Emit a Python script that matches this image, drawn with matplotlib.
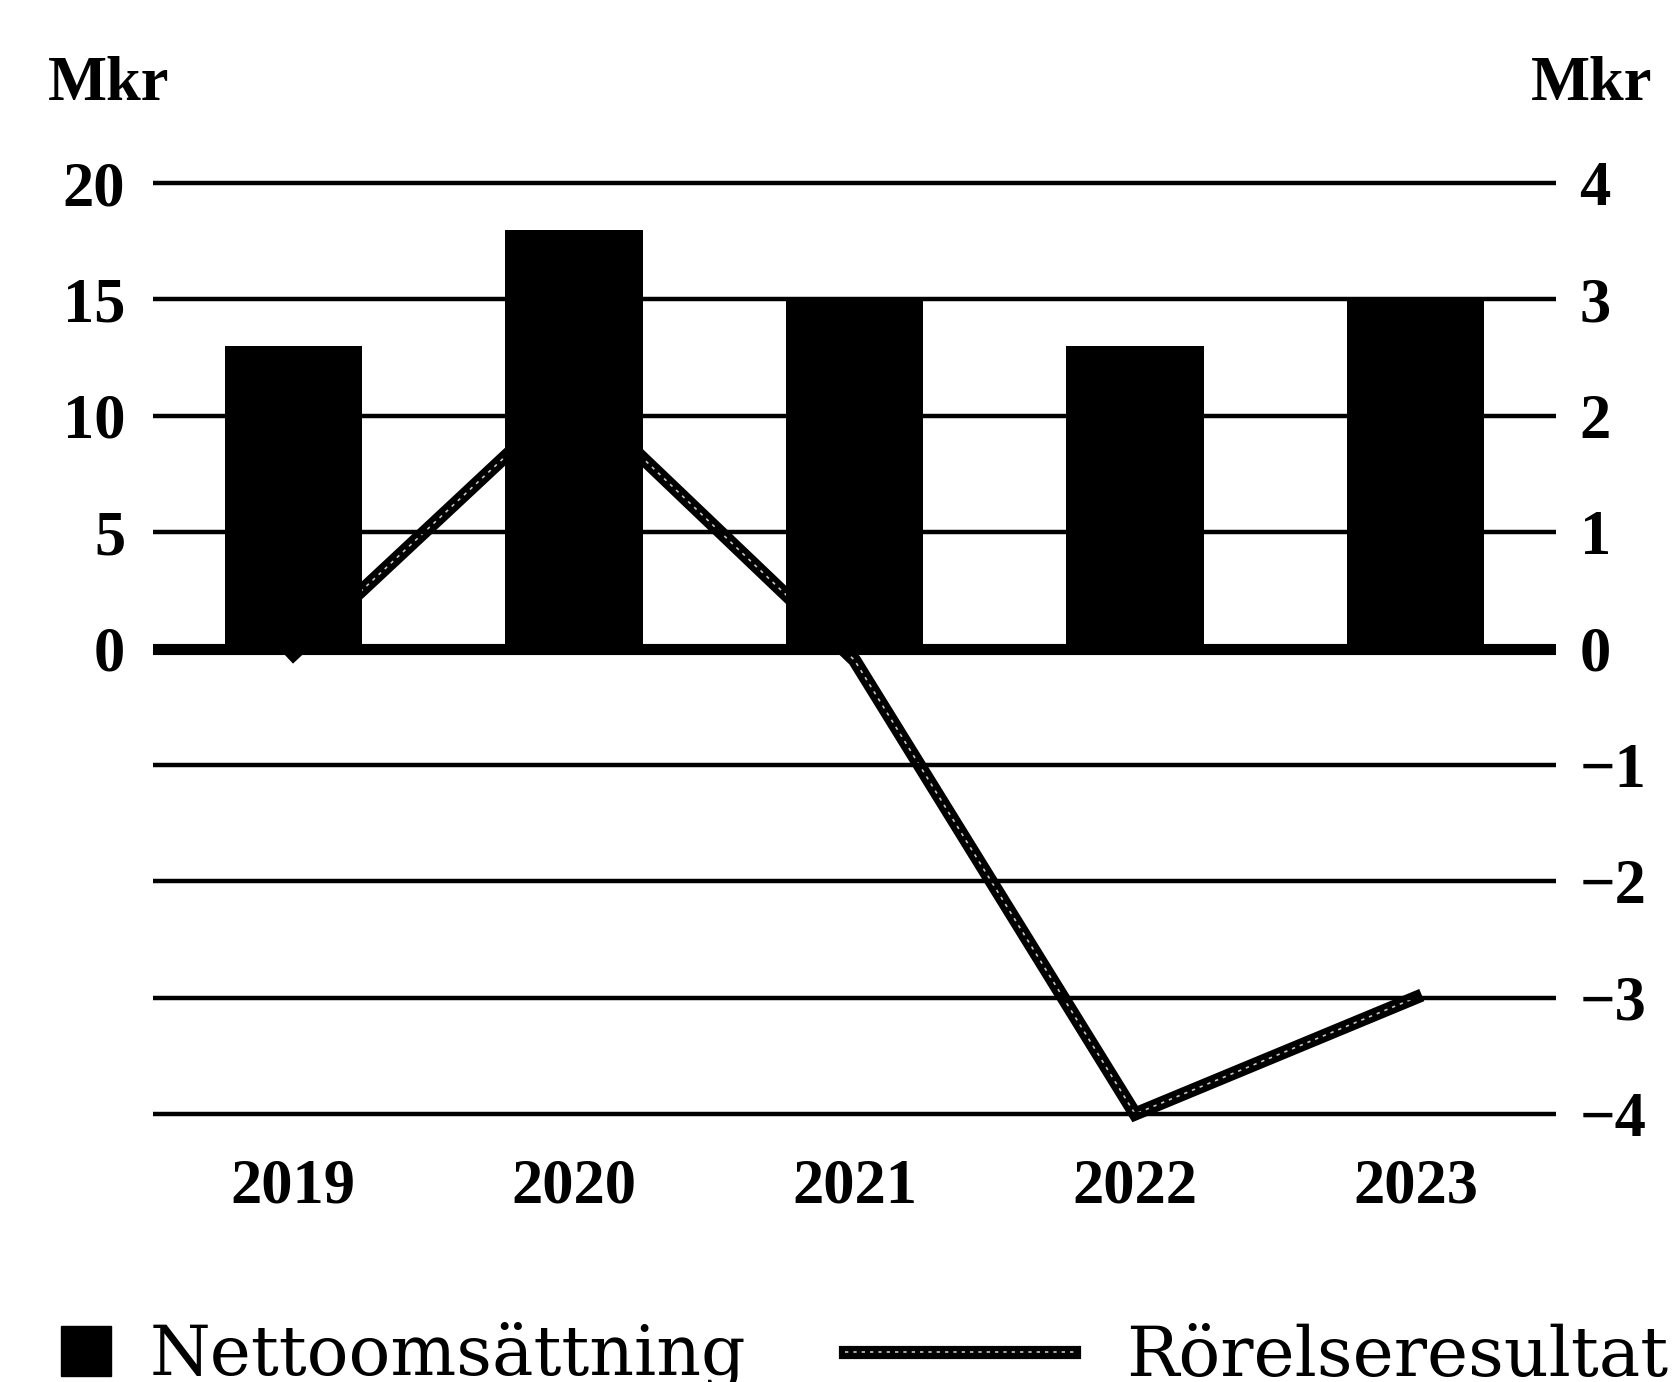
import matplotlib
matplotlib.use("Agg")
import matplotlib.pyplot as plt
from matplotlib.patches import Patch

# data
years = ["2019", "2020", "2021", "2022", "2023"]
nettoomsattning = [13, 18, 15, 13, 15]            # Mkr, left axis
rorelseresultat = [-0.05, 2.2, -0.1, -4.0, -3.0]  # Mkr, right axis

left_ticks = [0, 5, 10, 15, 20]
left_grid = [-20, -15, -10, -5, 0, 5, 10, 15, 20]
right_ticks = [-4, -3, -2, -1, 0, 1, 2, 3, 4]

tick_font = dict(family="Liberation Serif", weight="bold", size=45)
legend_font = dict(family="DejaVu Serif", size=50)

fig = plt.figure(figsize=(16.77, 13.82), dpi=100)
ax = fig.add_axes([153 / 1677, 0.1771, (1556 - 153) / 1677, 0.7073])
ax2 = ax.twinx()

# bars sit above the line (line is hidden where it passes behind a bar)
ax.set_zorder(2)
ax2.set_zorder(1)
ax.patch.set_visible(False)

x = range(len(years))

# horizontal grid lines (left scale), zero line thicker
for g in left_grid:
    ax.axhline(g, color="black", lw=8 if g == 0 else 3.2, zorder=1)

bars = ax.bar(x, nettoomsattning, width=0.49, color="black", zorder=2)

# "hollow" line: thick black line with a faint dotted light core on top
outer, = ax2.plot(x, rorelseresultat, color="black", lw=9.5,
                  solid_joinstyle="miter", zorder=3)
inner, = ax2.plot(x, rorelseresultat, color="#c4c4c4", lw=1.2,
                  linestyle=(0, (2, 3)), zorder=4)

ax.set_xlim(-0.5, 4.5)
ax.set_ylim(-21, 21)
ax2.set_ylim(-4.2, 4.2)

ax.set_yticks(left_ticks)
ax.set_yticklabels([str(v) for v in left_ticks], fontdict=tick_font)
ax2.set_yticks(right_ticks)
ax2.set_yticklabels([str(v).replace("-", "\u2212") for v in right_ticks],
                    fontdict=tick_font)
ax.set_xticks(list(x))
ax.set_xticklabels(years, fontdict=tick_font)

ax.tick_params(axis="y", length=0, pad=20)
ax2.tick_params(axis="y", length=0, pad=17)
ax.tick_params(axis="x", length=0, pad=15)

for a in (ax, ax2):
    for s in a.spines.values():
        s.set_visible(False)

# unit labels above each axis
fig.text(48 / 1677, 1 - 100 / 1382, "Mkr", ha="left", va="baseline", **tick_font)
fig.text(1652 / 1677, 1 - 100 / 1382, "Mkr", ha="right", va="baseline", **tick_font)

# legend at the bottom, two separate entries
leg1 = fig.legend([Patch(facecolor="black", edgecolor="black")], ["Nettoomsättning"],
                  loc="lower left", bbox_to_anchor=(61 / 1677, -0.006),
                  frameon=False, handlelength=0.72, handleheight=0.72,
                  handletextpad=0.55, borderpad=0, borderaxespad=0, prop=legend_font)
leg2 = fig.legend([(outer, inner)], ["Rörelseresultat"],
                  loc="lower left", bbox_to_anchor=(845 / 1677, -0.006),
                  frameon=False, handlelength=3.3, handletextpad=0.75,
                  borderpad=0, borderaxespad=0, prop=legend_font)

fig.savefig("out.png", dpi=100, facecolor="white")
